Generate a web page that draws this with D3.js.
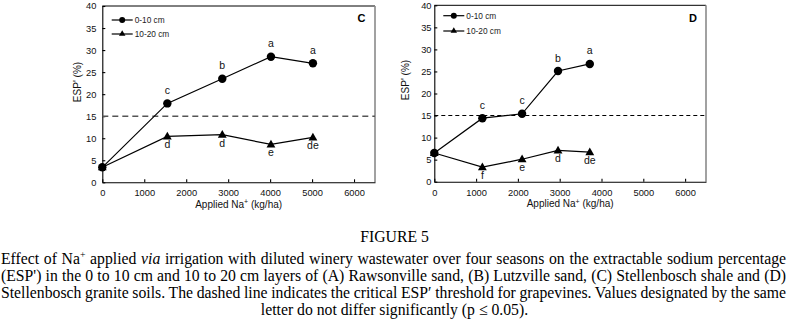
<!DOCTYPE html>
<html><head><meta charset="utf-8">
<script src="https://cdn.jsdelivr.net/npm/d3@7"></script>
<style>
html,body{margin:0;padding:0;background:#fff;}
svg{display:block;}
</style></head>
<body>
<svg id="c" width="789" height="324"></svg>
<script>
// ---- data ----
const xTicks = [0, 1000, 2000, 3000, 4000, 5000, 6000];
const yTicks = [0, 5, 10, 15, 20, 25, 30, 35, 40];
const seriesNames = ["0-10 cm", "10-20 cm"];
const threshold = 15;

const naC = [0, 1550, 2860, 4020, 5020];
const espC_0_10 = [3.4, 17.9, 23.5, 28.5, 27.0];
const espC_10_20 = [3.4, 10.4, 10.8, 8.6, 10.2];
const lettersC_0_10 = ["", "c", "b", "a", "a"];
const lettersC_10_20 = ["", "d", "d", "e", "de"];

const naD = [0, 1150, 2100, 2960, 3720];
const espD_0_10 = [6.5, 14.4, 15.4, 25.1, 26.7];
const espD_10_20 = [6.5, 3.3, 5.1, 7.1, 6.7];
const lettersD_0_10 = ["", "c", "c", "b", "a"];
const lettersD_10_20 = ["", "f", "e", "d", "de"];

const svg = d3.select("#c");
const SANS = "'Liberation Sans', Arial, sans-serif";
const SERIF = "'Liberation Serif', 'Times New Roman', serif";

function panel(cfg) {
  const x = d3.scaleLinear().domain([0, 6500]).range([cfg.x0, cfg.x1]);
  const y = d3.scaleLinear().domain([0, 40]).range([cfg.y0, cfg.y1]);
  const g = svg.append("g");

  g.append("line").attr("x1", cfg.x0).attr("x2", cfg.x1).attr("y1", cfg.y1).attr("y2", cfg.y1)
    .attr("stroke", "#000").attr("stroke-width", 1);
  g.append("line").attr("x1", cfg.x1).attr("x2", cfg.x1).attr("y1", cfg.y1).attr("y2", cfg.y0)
    .attr("stroke", "#8a8a8a").attr("stroke-width", 1.6);

  const xa = g.append("g").attr("transform", `translate(0,${cfg.y0})`)
    .call(d3.axisBottom(x).tickValues(xTicks).tickFormat(d3.format("d")).tickSizeInner(-3).tickSizeOuter(0).tickPadding(7.5));
  const ya = g.append("g").attr("transform", `translate(${cfg.x0},0)`)
    .call(d3.axisLeft(y).tickValues(yTicks).tickFormat(d3.format("d")).tickSizeInner(-3).tickSizeOuter(0).tickPadding(cfg.yPad));
  [xa, ya].forEach(a => {
    a.selectAll("path,line").attr("stroke", "#000").attr("stroke-width", 1.1);
    a.selectAll("text").attr("font-family", SANS).attr("font-size", 9.3).attr("fill", "#111");
  });

  g.append("line").attr("x1", cfg.x0).attr("x2", cfg.x1)
    .attr("y1", y(threshold)).attr("y2", y(threshold))
    .attr("stroke", cfg.dashColor).attr("stroke-width", cfg.dashWidth)
    .attr("stroke-dasharray", cfg.dash);

  const line = d3.line().x(d => x(d[0])).y(d => y(d[1]));
  const s1 = cfg.na.map((v, i) => [v, cfg.s1[i]]);
  const s2 = cfg.na.map((v, i) => [v, cfg.s2[i]]);
  g.append("path").attr("d", line(s2)).attr("fill", "none").attr("stroke", "#000").attr("stroke-width", 1.2);
  g.append("path").attr("d", line(s1)).attr("fill", "none").attr("stroke", "#000").attr("stroke-width", 1.2);

  const tri = d3.symbol().type(d3.symbolTriangle).size(34);
  g.selectAll(".t").data(s2).join("path")
    .attr("d", tri).attr("transform", d => `translate(${x(d[0])},${y(d[1]) + 0.5})`).attr("fill", "#000");
  g.selectAll(".c").data(s1).join("circle")
    .attr("cx", d => x(d[0])).attr("cy", d => y(d[1])).attr("r", 4.2).attr("fill", "#000");

  g.selectAll(".l1").data(s1).join("text")
    .attr("x", d => x(d[0])).attr("y", d => y(d[1]) - 9.5)
    .attr("text-anchor", "middle").attr("font-family", SANS).attr("font-size", 10.5).attr("fill", "#111")
    .text((d, i) => cfg.l1[i]);
  g.selectAll(".l2").data(s2).join("text")
    .attr("x", d => x(d[0])).attr("y", d => y(d[1]) + 12)
    .attr("text-anchor", "middle").attr("font-family", SANS).attr("font-size", 10.5).attr("fill", "#111")
    .text((d, i) => cfg.l2[i]);

  const lx = cfg.x0 + cfg.legDx;
  cfg.legY.forEach((ly, i) => {
    g.append("line").attr("x1", lx).attr("x2", lx + 21).attr("y1", ly).attr("y2", ly)
      .attr("stroke", "#000").attr("stroke-width", 1.2);
    if (i === 0) g.append("circle").attr("cx", lx + 10.5).attr("cy", ly).attr("r", 3).attr("fill", "#000");
    else g.append("path").attr("d", d3.symbol().type(d3.symbolTriangle).size(18)).attr("transform", `translate(${lx + 10.5},${ly})`).attr("fill", "#000");
    g.append("text").attr("x", lx + 23).attr("y", ly + 3).attr("font-family", SANS).attr("font-size", 8.3)
      .attr("fill", "#222").text(seriesNames[i]);
  });

  g.append("text").attr("x", cfg.x1 - cfg.letterDx).attr("y", cfg.letterY).attr("text-anchor", "middle")
    .attr("font-family", SANS).attr("font-weight", "bold").attr("font-size", 11).text(cfg.letter);

  const xt = g.append("text").attr("x", (cfg.x0 + cfg.x1) / 2).attr("y", cfg.y0 + 25.5)
    .attr("text-anchor", "middle").attr("font-family", SANS).attr("font-size", 10).attr("fill", "#111");
  xt.append("tspan").text("Applied Na");
  xt.append("tspan").attr("dy", -3.5).attr("font-size", 7).text("+");
  xt.append("tspan").attr("dy", 3.5).text(" (kg/ha)");
  g.append("text").attr("transform", `translate(${cfg.yTitleX},${cfg.yTitleY}) rotate(-90)`)
    .attr("text-anchor", "middle").attr("font-family", SANS).attr("font-size", 10).attr("fill", "#111")
    .text("ESP' (%)");
}

panel({ x0: 102.3, x1: 375, y0: 182.3, y1: 6, yPad: 6, na: naC, s1: espC_0_10, s2: espC_10_20,
  l1: lettersC_0_10, l2: lettersC_10_20, dashColor: "#555", dashWidth: 1.6, dash: "6,4",
  legDx: 9.4, legY: [20, 34], letter: "C", letterDx: 13.5, letterY: 21.5, yTitleX: 80.5, yTitleY: 82 });
panel({ x0: 434.3, x1: 706, y0: 181.7, y1: 5.3, yPad: 2.8, na: naD, s1: espD_0_10, s2: espD_10_20,
  l1: lettersD_0_10, l2: lettersD_10_20, dashColor: "#000", dashWidth: 1.1, dash: "4,3",
  legDx: 9, legY: [15.7, 31], letter: "D", letterDx: 13, letterY: 22.3, yTitleX: 408.5, yTitleY: 80 });

// ---- caption (condensed serif) ----
const FS = 16.5;
const cap = svg.append("g");
const capTitle = "FIGURE 5";
const capLines = [
  [["Effect of Na", ""], ["+", "sup"], [" applied ", ""], ["via", "i"], [" irrigation with diluted winery wastewater over four seasons on the extractable sodium percentage", ""]],
  [["(ESP') in the 0 to 10 cm and 10 to 20 cm layers of (A) Rawsonville sand, (B) Lutzville sand, (C) Stellenbosch shale and (D)", ""]],
  [["Stellenbosch granite soils. The dashed line indicates the critical ESP\u2032 threshold for grapevines. Values designated by the same", ""]],
  [["letter do not differ significantly (p \u2264 0.05).", ""]]
];
const lineY = [264, 281, 298, 315];
const left = 1, right = 786;

const texts = capLines.map((parts, li) => {
  const t = cap.append("text").attr("y", lineY[li]).attr("font-family", SERIF).attr("font-size", FS).attr("fill", "#000");
  parts.forEach(([s, kind], i) => {
    const ts = t.append("tspan").text(s);
    if (kind === "i") ts.attr("font-style", "italic");
    if (kind === "sup") ts.attr("font-size", FS * 0.62).attr("dy", -6);
    if (i > 0 && parts[i - 1][1] === "sup") ts.attr("dy", 6);
  });
  return t;
});
// horizontal condensing factor taken from the first (naturally set) line
texts[0].attr("x", 0);
const w0 = texts[0].node().getComputedTextLength();
const sx = Math.min(1, (right - left) / w0 * 0.985);
cap.attr("transform", `scale(${sx},1)`);
texts.forEach((t, li) => {
  const parts = capLines[li];
  if (li < 3) {
    t.attr("x", left / sx);
    const w = t.node().getComputedTextLength();
    const full = parts.map(p => p[0]).join("");
    const n = (full.match(/ /g) || []).length;
    t.attr("word-spacing", ((right - left) / sx - w) / n);
  } else {
    t.attr("x", 394.5 / sx).attr("text-anchor", "middle");
  }
});
cap.append("text").attr("x", 394.5 / sx).attr("y", 242).attr("text-anchor", "middle")
  .attr("font-family", SERIF).attr("font-size", FS).attr("fill", "#000").text(capTitle);
</script>
</body></html>
